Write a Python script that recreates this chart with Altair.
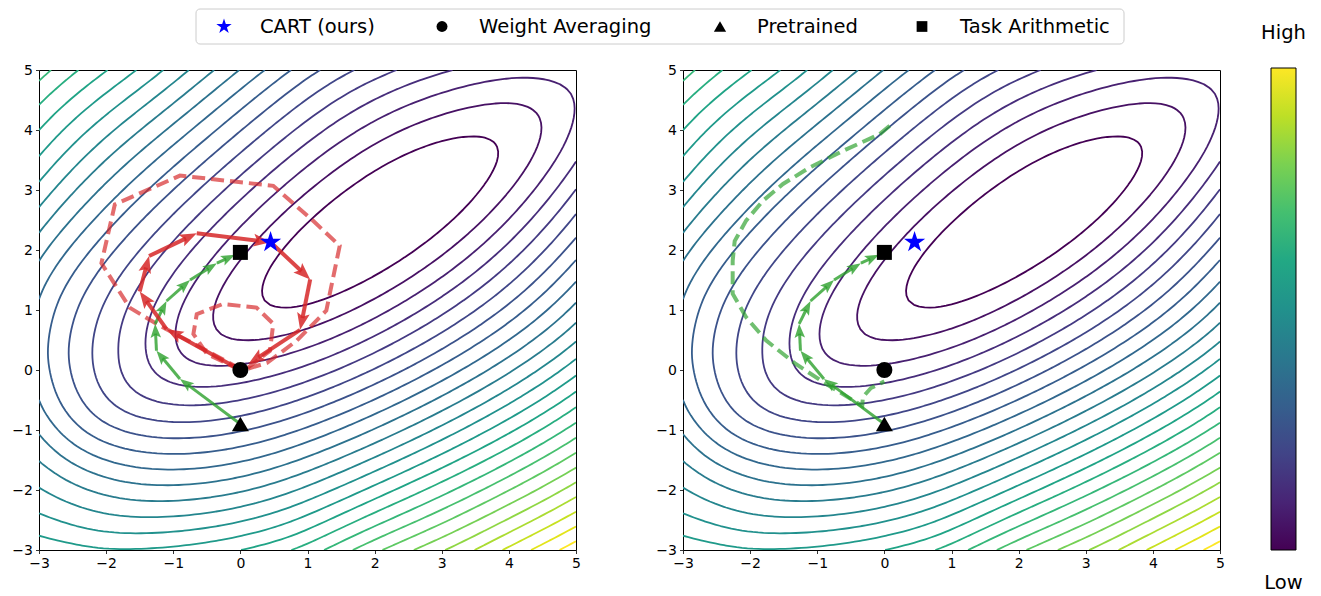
import numpy as np
import pandas as pd
import altair as alt
from collections import defaultdict

alt.data_transformers.disable_max_rows()

# ------------------------------------------------------------------
# Contour readings: points read off the picture that lie on contour number k
floor_x = [2.17]
floor_y = [2.43]
ring_x = [0.37, 3.87, 3.58, 0.86, -0.36, 4.19, -0.92, 4.19, 4.95, -1.375, -1.775, -2.2, -2.58, -2.92]
ring_y = [1.36, 3.52, 3.84, 1.02, 0.75, 4.43, 0.25, 4.89, 4.37, 0.30, 0.30, 0.28, 0.27, 0.25]
ring_k = [1, 1, 1, 1, 2, 2, 3, 3, 3, 4, 5, 6, 7, 8]
top_cross_x = [3.17, 2.33, 1.68, 1.16, 0.74, 0.38, -0.02, -0.38, -0.77, -1.13, -1.52, -1.96, -2.43]
top_cross_k = [4, 5, 6, 7, 8, 9, 10, 11, 12, 13, 14, 15, 16]
left_cross_y = [1.30, 1.85, 2.28, 2.70, 3.12, 3.55, 4.00, 4.45, -0.66, -1.02, -1.36, -1.80, -2.35, -2.84]
left_cross_k = [9, 10, 11, 12, 13, 14, 15, 16, 9, 10, 11, 12, 13, 14]
right_cross_y = [3.45, 3.03, 2.61, 2.20, 1.84, 1.48, 1.12, 0.78, 0.45]
right_cross_k = [4, 5, 6, 7, 8, 9, 10, 11, 12]
bottom_cross_x = [-2.16, -1.93, 0.0, 0.88, 1.24, 1.63, 2.08, 2.57, 3.07, 3.51, 3.87, 4.32]
bottom_cross_k = [14, 14, 15, 16, 17, 18, 19, 20, 21, 22, 23, 24]
contour_levels = list(range(1, 26))

# valley shape (centre, tilt, curvatures)
BOWL_CX, BOWL_CY, BOWL_ANGLE = 2.17, 2.43, 37.0
BOWL_A, BOWL_B, BOWL_S = 0.2225, 3.5, 0.85
SMOOTH = 1.0

# ------------------------------------------------------------------
# Optimisation paths
green_x = [0.0, -0.9, -1.25, -1.27, -1.1, -0.75, -0.35, -0.08]
green_y = [-0.9, -0.15, 0.32, 0.77, 1.15, 1.5, 1.78, 1.92]
red_x = [0.0, -1.1, -1.5, -1.36, -0.65, 0.45, 1.04, 0.89, 0.12]
red_y = [0.0, 0.68, 1.31, 1.90, 2.28, 2.13, 1.51, 0.67, 0.10]
red_dash_outer_x = [0.0, -0.6, -1.25, -1.65, -2.07, -1.87, -0.90, 0.49, 1.08, 1.48, 1.28, 0.84, 0.40, 0.05]
red_dash_outer_y = [0.02, 0.38, 0.77, 1.04, 1.78, 2.76, 3.24, 3.07, 2.49, 2.07, 0.99, 0.49, 0.12, 0.0]
red_dash_inner_x = [0.0, -0.50, -0.70, -0.65, -0.26, 0.24, 0.49, 0.44, 0.10]
red_dash_inner_y = [0.0, 0.27, 0.60, 0.93, 1.10, 1.04, 0.77, 0.32, 0.03]
green_dash_x = [0.08, -0.07, -0.62, -1.12, -1.51, -1.81, -2.06, -2.23, -2.26, -2.26, -2.06, -1.76, -1.32, -0.87, -0.33, -0.32, -0.20, 0.0]
green_dash_y = [4.07, 3.93, 3.65, 3.37, 3.10, 2.82, 2.49, 2.15, 1.82, 1.27, 0.88, 0.49, 0.10, -0.23, -0.60, -0.45, -0.30, -0.19]

# Markers
marker_names = ["CART (ours)", "Weight Averaging", "Pretrained", "Task Arithmetic"]
marker_x = [0.45, 0.0, 0.0, 0.0]
marker_y = [2.13, 0.0, -0.9, 1.96]

# ------------------------------------------------------------------
# Layout / style
W, H = 537, 480
SX, SY = W / 8.0, H / 8.0
FONT = "DejaVu Sans"
TICK_FONT = 14
RED = "#d62728"
GREEN = "#2ca02c"
VIRIDIS = ["#440154", "#482475", "#414487", "#355f8d", "#2a788e", "#21918c",
           "#22a884", "#44bf70", "#7ad151", "#bddf26", "#fde725"]
CBAR_X, CBAR_W = W + 51, 25


def star_path(inner=0.382):
    pts = []
    for i in range(10):
        r = 1.0 if i % 2 == 0 else inner
        a = np.radians(36 * i)
        pts.append((r * np.sin(a), -r * np.cos(a)))
    return "M" + "L".join(f"{x:.3f},{y:.3f}" for x, y in pts) + "Z"


STAR = star_path()
ARROW = "M0,0L0.75,2L0,1.6L-0.75,2Z"
MARK_SHAPES = [STAR, "circle", "triangle-up", "square"]
MARK_COLORS = ["#0000ff", "black", "black", "black"]
MARK_SIZES = [500, 256, 290, 225]
LEG_SIZES = [260, 120, 150, 115]
LEG_SYM_X = [185, 403, 681, 883]
LEG_TXT_X = [221, 440, 718, 921]

# ------------------------------------------------------------------
# Field from the readings: smooth valley + thin-plate correction through the readings
def base_field(X, Y):
    t = np.radians(BOWL_ANGLE)
    dx, dy = X - BOWL_CX, Y - BOWL_CY
    u = dx * np.cos(t) + dy * np.sin(t)
    v = -dx * np.sin(t) + dy * np.cos(t)
    return BOWL_A * u ** 2 + BOWL_B * (np.sqrt(1 + (v / BOWL_S) ** 2) - 1)


def tps_phi(r2):
    out = np.zeros_like(r2)
    m = r2 > 1e-12
    out[m] = 0.5 * r2[m] * np.log(r2[m])
    return out


px = np.array(floor_x + ring_x + top_cross_x + [-3.0] * len(left_cross_y)
              + [5.0] * len(right_cross_y) + bottom_cross_x, float)
py = np.array(floor_y + ring_y + [5.0] * len(top_cross_x) + left_cross_y
              + right_cross_y + [-3.0] * len(bottom_cross_x), float)
pk = np.array([0] + ring_k + top_cross_k + left_cross_k + right_cross_k + bottom_cross_k, float)

n = len(px)
Kmat = tps_phi((px[:, None] - px[None, :]) ** 2 + (py[:, None] - py[None, :]) ** 2) + SMOOTH * np.eye(n)
P = np.column_stack([np.ones(n), px, py])
A = np.zeros((n + 3, n + 3))
A[:n, :n] = Kmat
A[:n, n:] = P
A[n:, :n] = P.T
rhs = np.concatenate([pk - base_field(px, py), np.zeros(3)])
sol = np.linalg.solve(A, rhs)
wts, coef = sol[:n], sol[n:]

xs = np.linspace(-3, 5, 101)
ys = np.linspace(-3, 5, 101)
GX, GY = np.meshgrid(xs, ys)
gx, gy = GX.ravel(), GY.ravel()
corr = tps_phi((gx[:, None] - px[None, :]) ** 2 + (gy[:, None] - py[None, :]) ** 2) @ wts
corr = corr + coef[0] + coef[1] * gx + coef[2] * gy
Z = base_field(GX, GY) + corr.reshape(GX.shape)

# ------------------------------------------------------------------
# marching squares
TABLE = {1: [("L", "B")], 2: [("B", "R")], 3: [("L", "R")], 4: [("R", "T")],
         6: [("B", "T")], 7: [("L", "T")], 8: [("L", "T")], 9: [("B", "T")],
         11: [("R", "T")], 12: [("L", "R")], 13: [("B", "R")], 14: [("L", "B")]}


def edge_id(side, j, i):
    if side == "B":
        return ("h", j, i)
    if side == "T":
        return ("h", j + 1, i)
    if side == "L":
        return ("v", j, i)
    return ("v", j, i + 1)


def trace_level(lev):
    above = Z > lev
    case = (above[:-1, :-1].astype(int) + 2 * above[:-1, 1:] + 4 * above[1:, 1:] + 8 * above[1:, :-1])
    adj = defaultdict(list)
    js, iis = np.nonzero((case > 0) & (case < 15))
    for j, i in zip(js, iis):
        c = int(case[j, i])
        if c in (5, 10):
            cen = (Z[j, i] + Z[j, i + 1] + Z[j + 1, i] + Z[j + 1, i + 1]) / 4 > lev
            if c == 5:
                pairs = [("B", "R"), ("L", "T")] if cen else [("L", "B"), ("R", "T")]
            else:
                pairs = [("L", "B"), ("R", "T")] if cen else [("B", "R"), ("L", "T")]
        else:
            pairs = TABLE[c]
        for a, b in pairs:
            e1, e2 = edge_id(a, j, i), edge_id(b, j, i)
            adj[e1].append(e2)
            adj[e2].append(e1)

    def pt(e):
        kind, j, i = e
        if kind == "h":
            z0, z1 = Z[j, i], Z[j, i + 1]
            t = (lev - z0) / (z1 - z0)
            return xs[i] + t * (xs[i + 1] - xs[i]), ys[j]
        z0, z1 = Z[j, i], Z[j + 1, i]
        t = (lev - z0) / (z1 - z0)
        return xs[i], ys[j] + t * (ys[j + 1] - ys[j])

    visited = set()
    paths = []
    starts = [e for e in adj if len(adj[e]) == 1] + list(adj.keys())
    for s in starts:
        if s in visited:
            continue
        path = [s]
        visited.add(s)
        cur = s
        while True:
            nxt = [e for e in adj[cur] if e not in visited]
            if not nxt:
                break
            cur = nxt[0]
            visited.add(cur)
            path.append(cur)
        if len(adj[s]) == 2 and s in adj[cur] and len(path) > 2:
            path.append(s)
        paths.append([pt(e) for e in path])
    return paths


rows = []
pid = 0
for lev in contour_levels:
    for path in trace_level(lev):
        for o, (x, y) in enumerate(path):
            rows.append({"x": round(float(x), 4), "y": round(float(y), 4), "k": lev, "pid": pid, "o": o})
        pid += 1
contour_df = pd.DataFrame(rows)

# ------------------------------------------------------------------
def path_df(xs_, ys_, name):
    return pd.DataFrame({"x": xs_, "y": ys_, "o": range(len(xs_)), "path": name})


def arrow_tables(xs_, ys_, head_len):
    segs, heads = [], []
    for i in range(len(xs_) - 1):
        x0, y0, x1, y1 = xs_[i], ys_[i], xs_[i + 1], ys_[i + 1]
        dxp, dyp = (x1 - x0) * SX, (y1 - y0) * SY
        L = float(np.hypot(dxp, dyp))
        cut = min(0.7 * head_len, 0.9 * L)
        segs.append({"x": x0, "y": y0, "x2": x1 - dxp / L * cut / SX, "y2": y1 - dyp / L * cut / SY})
        heads.append({"x": x1, "y": y1, "angle": float(np.degrees(np.arctan2(dxp, dyp)) % 360)})
    return pd.DataFrame(segs), pd.DataFrame(heads)


xscale = alt.Scale(domain=[-3, 5], nice=False, zero=False)
yscale = alt.Scale(domain=[-3, 5], nice=False, zero=False)
AXIS_STYLE = dict(values=list(range(-3, 6)), tickSize=3.5, tickWidth=0.8, tickColor="black",
                  labelColor="black", labelFontSize=TICK_FONT, labelFont=FONT, labelPadding=3,
                  labelFlush=False, labelOverlap=False, domain=False, grid=False, title="")
xaxis = alt.Axis(**AXIS_STYLE)
yaxis = alt.Axis(**AXIS_STYLE)


def X(f="x"):
    return alt.X(f"{f}:Q", scale=xscale, axis=xaxis)


def Y(f="y"):
    return alt.Y(f"{f}:Q", scale=yscale, axis=yaxis)


contour_layer = alt.Chart(contour_df).mark_line(strokeWidth=1.8, clip=True).encode(
    x=X(), y=Y(), detail="pid:N", order="o:Q",
    color=alt.Color("k:Q", scale=alt.Scale(scheme="viridis", domain=[1, 25]), legend=None))


def dashed_layer(df, color, opacity):
    return alt.Chart(df).mark_line(strokeWidth=4, strokeDash=[13, 6], color=color,
                                   opacity=opacity, clip=True).encode(
        x=X(), y=Y(), detail="path:N", order="o:Q")


ANGLE_SCALE = alt.Scale(domain=[0, 360], range=[0, 360])


def arrow_layers(xs_, ys_, color, width, head_len, opacity):
    segs, heads = arrow_tables(xs_, ys_, head_len)
    lines = alt.Chart(segs).mark_rule(strokeWidth=width, color=color, opacity=opacity,
                                      strokeCap="butt").encode(x=X(), y=Y(), x2="x2:Q", y2="y2:Q")
    hd = alt.Chart(heads).mark_point(shape=ARROW, filled=True, size=head_len ** 2, color=color,
                                     opacity=opacity, strokeWidth=0).encode(
        x=X(), y=Y(), angle=alt.Angle("angle:Q", scale=ANGLE_SCALE, legend=None))
    return [lines, hd]


marker_df = pd.DataFrame({"x": marker_x, "y": marker_y, "name": marker_names})


def marker_layers():
    out = []
    for i, nm in enumerate(marker_names):
        out.append(alt.Chart(marker_df).transform_filter(alt.datum.name == nm).mark_point(
            filled=True, opacity=1, strokeWidth=0, shape=MARK_SHAPES[i], size=MARK_SIZES[i],
            color=MARK_COLORS[i]).encode(x=X(), y=Y()))
    return out


red_dash_df = pd.concat([path_df(red_dash_outer_x, red_dash_outer_y, "outer"),
                         path_df(red_dash_inner_x, red_dash_inner_y, "inner")])
green_dash_df = path_df(green_dash_x, green_dash_y, "g")

# colour bar (drawn beside the right panel)
one_row = pd.DataFrame({"v": [0]})
grad = alt.LinearGradient(gradient="linear",
                          stops=[alt.GradientStop(color=c, offset=i / (len(VIRIDIS) - 1))
                                 for i, c in enumerate(VIRIDIS)],
                          x1=0, x2=0, y1=1, y2=0)
cbar_rect = alt.Chart(one_row).mark_rect(fill=grad, stroke="black", strokeWidth=1).encode(
    x=alt.value(CBAR_X), x2=alt.value(CBAR_X + CBAR_W), y=alt.value(-2), y2=alt.value(H))
cbar_high = alt.Chart(one_row).mark_text(fontSize=19.5, font=FONT, color="black", align="center",
                                         baseline="middle", text="High").encode(
    x=alt.value(CBAR_X + CBAR_W / 2), y=alt.value(-37))
cbar_low = alt.Chart(one_row).mark_text(fontSize=19.5, font=FONT, color="black", align="center",
                                        baseline="middle", text="Low").encode(
    x=alt.value(CBAR_X + CBAR_W / 2), y=alt.value(H + 33))

left = alt.layer(
    contour_layer,
    dashed_layer(red_dash_df, RED, 0.68),
    *arrow_layers(green_x, green_y, GREEN, 3, 14, 0.8),
    *arrow_layers(red_x, red_y, RED, 4, 17, 0.85),
    *marker_layers(),
).properties(width=W, height=H)

right = alt.layer(
    contour_layer,
    dashed_layer(green_dash_df, GREEN, 0.68),
    *arrow_layers(green_x, green_y, GREEN, 3, 14, 0.8),
    *marker_layers(),
    cbar_rect, cbar_high, cbar_low,
).properties(width=W, height=H)

# legend (layout positions in pixels, relative to the left panel's frame)
LEG_W, LEG_H = 1257, 35
leg_layers = [alt.Chart(one_row).mark_rect(fill="white", stroke="#cccccc", strokeWidth=1,
                                            cornerRadius=4).encode(
    x=alt.value(157), x2=alt.value(1085), y=alt.value(0), y2=alt.value(LEG_H))]
for i, nm in enumerate(marker_names):
    leg_layers.append(alt.Chart(one_row).mark_point(
        filled=True, opacity=1, strokeWidth=0, shape=MARK_SHAPES[i], size=LEG_SIZES[i],
        color=MARK_COLORS[i]).encode(x=alt.value(LEG_SYM_X[i]), y=alt.value(LEG_H / 2)))
    leg_layers.append(alt.Chart(one_row).mark_text(
        fontSize=19.5, font=FONT, color="black", align="left", baseline="middle", text=nm).encode(
        x=alt.value(LEG_TXT_X[i]), y=alt.value(LEG_H / 2)))
legend = alt.layer(*leg_layers).properties(
    width=LEG_W, height=LEG_H, view=alt.ViewBackground(stroke="transparent"))

panels = alt.hconcat(left, right, spacing=107, bounds="flush")
chart = alt.vconcat(legend, panels, spacing=26, bounds="flush").properties(
    padding={"left": 3, "top": 0, "right": 0, "bottom": 0}
).configure(font=FONT).configure_view(stroke="black", strokeWidth=1).configure_axis(
    labelFontSize=TICK_FONT, labelFont=FONT, labelColor="black")

chart.save("out.html", embed_options={"renderer": "svg", "actions": False})
